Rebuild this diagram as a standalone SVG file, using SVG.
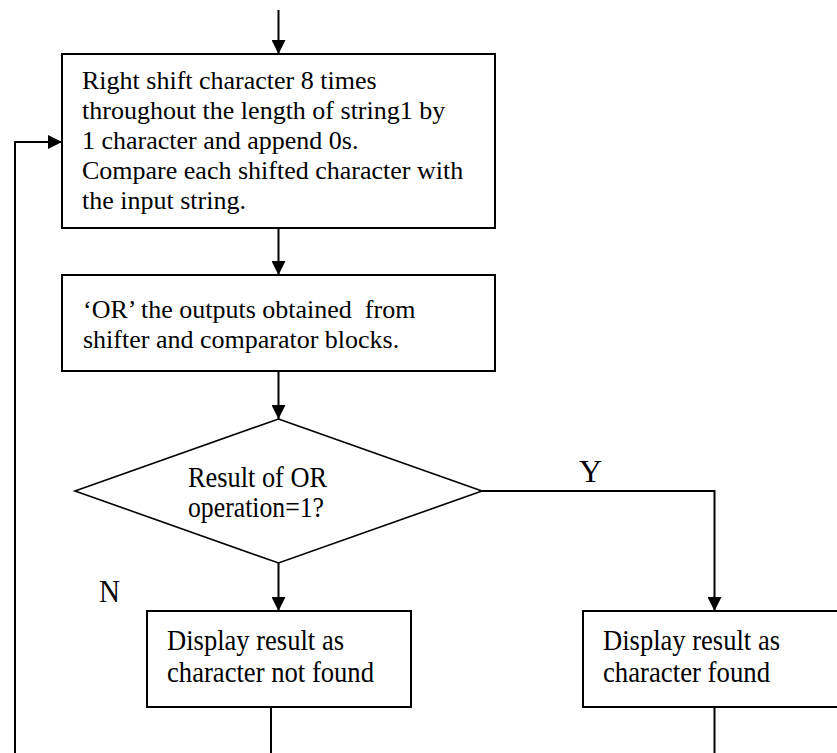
<svg xmlns="http://www.w3.org/2000/svg" width="837" height="753" viewBox="0 0 837 753">
  <style>
    .box { fill: #ffffff; stroke: #000000; stroke-width: 2; }
    .dia { fill: #ffffff; stroke: #000000; stroke-width: 1.6; }
    .wire { fill: none; stroke: #000000; stroke-width: 2; }
    .t { font-family: "Liberation Serif", "Times New Roman", serif; fill: #000000; }
    .body { font-size: 26px; }
    .mid { font-size: 29px; }
    .tall { font-size: 30px; }
    .lbl { font-size: 32px; }
  </style>
  <defs>
    <marker id="arrow" viewBox="0 0 14 14" refX="14" refY="7" markerWidth="14" markerHeight="14" markerUnits="userSpaceOnUse" orient="auto">
      <path d="M0,0 L14,7 L0,14 Z" fill="#000000"/>
    </marker>
  </defs>

  <rect width="837" height="753" fill="#ffffff"/>

  <!-- connectors -->
  <g id="connectors">
    <line class="wire" x1="278.5" y1="10" x2="278.5" y2="54" marker-end="url(#arrow)"/>
    <line class="wire" x1="278.5" y1="228" x2="278.5" y2="275" marker-end="url(#arrow)"/>
    <line class="wire" x1="278.5" y1="371" x2="278.5" y2="419" marker-end="url(#arrow)"/>
    <line class="wire" x1="278.5" y1="563" x2="278.5" y2="611" marker-end="url(#arrow)"/>
    <polyline class="wire" points="482,491 714.5,491 714.5,611" marker-end="url(#arrow)"/>
    <line class="wire" x1="271" y1="707" x2="271" y2="753"/>
    <line class="wire" x1="714.5" y1="707" x2="714.5" y2="753"/>
    <polyline class="wire" points="15,753 15,142 62,142" marker-end="url(#arrow)"/>
  </g>

  <!-- shift and compare -->
  <g id="shift">
    <rect class="box" x="62" y="54" width="433" height="174"/>
    <text class="t body" x="82" y="89">Right shift character 8 times</text>
    <text class="t body" x="82" y="119">throughout the length of string1 by</text>
    <text class="t body" x="82" y="149">1 character and append 0s.</text>
    <text class="t body" x="82" y="179">Compare each shifted character with</text>
    <text class="t body" x="82" y="209">the input string.</text>
  </g>

  <!-- OR stage -->
  <g id="or-stage">
    <rect class="box" x="62" y="275" width="433" height="96"/>
    <text class="t body" x="83" y="318" xml:space="preserve">‘OR’ the outputs obtained  from</text>
    <text class="t body" x="83" y="348">shifter and comparator blocks.</text>
  </g>

  <!-- decision -->
  <g id="decision">
    <polygon class="dia" points="278.5,419 482,491 278.5,563 75,491"/>
    <text class="t mid" x="188" y="487" textLength="139" lengthAdjust="spacingAndGlyphs">Result of OR</text>
    <text class="t mid" x="188" y="517" textLength="136" lengthAdjust="spacingAndGlyphs">operation=1?</text>
  </g>

  <text id="label-y" class="t lbl" x="579" y="482">Y</text>
  <text id="label-n" class="t lbl" x="99" y="602" textLength="21" lengthAdjust="spacingAndGlyphs">N</text>

  <!-- not found -->
  <g id="not-found">
    <rect class="box" x="147" y="611" width="264" height="96"/>
    <text class="t tall" x="167" y="650" textLength="177" lengthAdjust="spacingAndGlyphs">Display result as</text>
    <text class="t tall" x="167" y="682" textLength="207" lengthAdjust="spacingAndGlyphs">character not found</text>
  </g>

  <!-- found -->
  <g id="found">
    <rect class="box" x="583" y="611" width="270" height="96"/>
    <text class="t tall" x="603" y="650" textLength="177" lengthAdjust="spacingAndGlyphs">Display result as</text>
    <text class="t tall" x="603" y="682" textLength="167" lengthAdjust="spacingAndGlyphs">character found</text>
  </g>
</svg>
